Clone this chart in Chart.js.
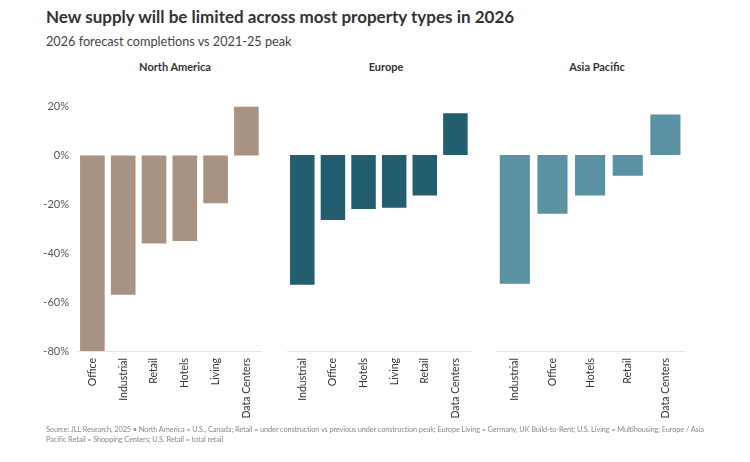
<!DOCTYPE html>
<html>
<head>
<meta charset="utf-8">
<script src="https://cdn.jsdelivr.net/npm/chart.js@4.4.1/dist/chart.umd.min.js"></script>
<style>
  body { margin: 0; background: #fff; }
  #wrap { position: relative; width: 750px; height: 462px; overflow: hidden; font-family: Lato, sans-serif; }
  .t { position: absolute; white-space: nowrap; }
  #title { left: 46px; top: 6px; font-size: 17px; font-weight: 700; color: #333; }
  #sub { left: 46px; top: 33px; font-size: 12.7px; color: #444; }
  .panel { top: 60px; font-size: 11px; font-weight: 700; color: #333; text-align: center; width: 200px; }
  #src { left: 46px; top: 425px; width: 662px; font-size: 7.4px; letter-spacing: -0.12px; line-height: 9.5px; color: #888; white-space: normal; }
  canvas { position: absolute; }
</style>
</head>
<body>
<div id="wrap">
  <div class="t" id="title">New supply will be limited across most property types in 2026</div>
  <div class="t" id="sub">2026 forecast completions vs 2021-25 peak</div>
  <div class="t panel" style="left:75px">North America</div>
  <div class="t panel" style="left:286px">Europe</div>
  <div class="t panel" style="left:497px">Asia Pacific</div>
  <canvas id="c1" width="246" height="360" style="left:20px;top:92px;width:246px;height:360px"></canvas>
  <canvas id="c2" width="188" height="356" style="left:287px;top:96px;width:188px;height:356px"></canvas>
  <canvas id="c3" width="189" height="356" style="left:496px;top:96px;width:189px;height:356px"></canvas>
  <div class="t" id="src">Source: JLL Research, 2025 • North America = U.S., Canada; Retail = under construction vs previous under construction peak; Europe Living = Germany, UK Build-to-Rent; U.S. Living = Multihousing; Europe / Asia Pacific Retail = Shopping Centers; U.S. Retail = total retail</div>
</div>
<script>
var naLabels = ["Office", "Industrial", "Retail", "Hotels", "Living", "Data Centers"];
var naValues = [-80, -57, -36, -35, -19.5, 20];

var euLabels = ["Industrial", "Office", "Hotels", "Living", "Retail", "Data Centers"];
var euValues = [-53, -26.5, -22, -21.5, -16.5, 17];

var apLabels = ["Industrial", "Office", "Hotels", "Retail", "Data Centers"];
var apValues = [-52.5, -24, -16.5, -8.5, 16.5];

var yTicks = [20, 0, -20, -40, -60, -80];

function makeChart(id, labels, values, color, showY) {
	var ctx = document.getElementById(id);
	return new Chart(ctx, {
		type: 'bar',
		data: {
			labels: labels,
			datasets: [{
				data: values,
				backgroundColor: color,
				borderWidth: 0,
				barPercentage: 0.8,
				categoryPercentage: 1
			}]
		},
		options: {
			responsive: false,
			animation: false,
			devicePixelRatio: 1,
			layout: { padding: { top: 10, left: 0, right: 0, bottom: 0 } },
			plugins: { legend: { display: false }, tooltip: { enabled: false } },
			scales: {
				x: {
					grid: { display: false, drawTicks: false },
					border: { display: true, color: '#e3e3e3', width: 1 },
					ticks: {
						minRotation: 90, maxRotation: 90, padding: 7, autoSkip: false,
						color: '#333', font: { family: 'Lato', size: 10.5 }
					},
					afterFit: function(scale) { scale.height = 101; }
				},
				y: {
					display: showY,
					min: -80, max: 20,
					grid: { display: false, drawTicks: false },
					border: { display: false },
					afterBuildTicks: function(scale) {
						scale.ticks = yTicks.map(function(v) { return { value: v }; });
					},
					ticks: {
						padding: 8, color: '#555',
						font: { family: 'Lato', size: 11 },
						callback: function(v) { return v + '%'; }
					},
					afterFit: function(scale) { if (showY) scale.width = 57; }
				}
			}
		}
	});
}

makeChart('c1', naLabels, naValues, '#a89282', true);
makeChart('c2', euLabels, euValues, '#235e6f', false);
makeChart('c3', apLabels, apValues, '#5a91a3', false);
</script>
</body>
</html>
